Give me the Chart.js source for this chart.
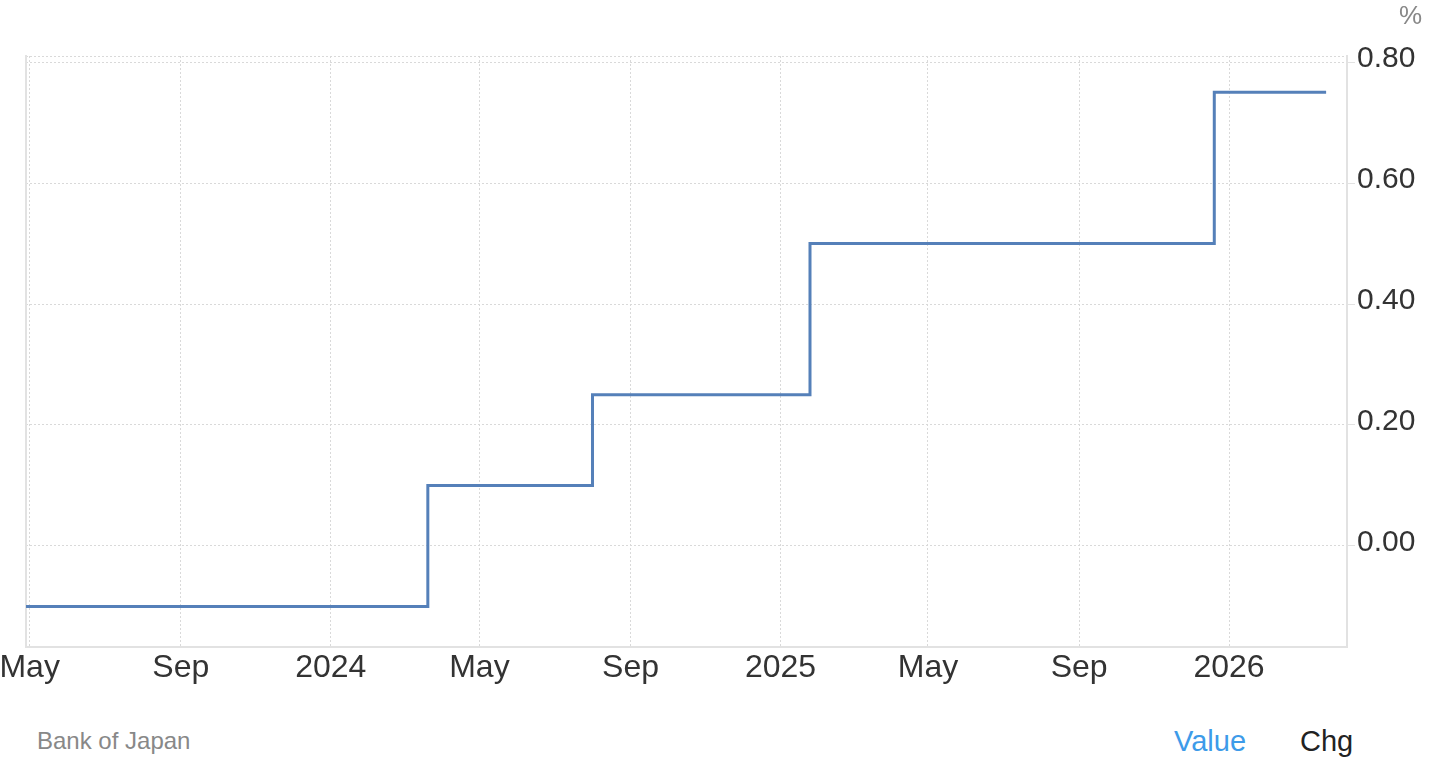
<!DOCTYPE html>
<html>
<head>
<meta charset="utf-8">
<script src="https://cdn.jsdelivr.net/npm/chart.js@4.4.1/dist/chart.umd.min.js"></script>
<style>
  body { margin: 0; background: #fff; font-family: "Liberation Sans", Arial, sans-serif; }
  #wrap { position: absolute; left: 0; top: 0; width: 1436px; height: 700px; }
  .txt { position: absolute; white-space: nowrap; }
  #unit { left: 1399px; top: 2px; font-size: 26px; line-height: 26px; color: #888; }
  #source { left: 37px; top: 729px; font-size: 24px; line-height: 24px; color: #888; }
  #value { left: 1174px; top: 727px; font-size: 29px; line-height: 29px; color: #3d9be9; }
  #chg { left: 1300px; top: 727px; font-size: 29px; line-height: 29px; color: #222; }
</style>
</head>
<body>
<div id="wrap"><canvas id="rateChart"></canvas></div>
<div class="txt" id="unit">%</div>
<div class="txt" id="source">Bank of Japan</div>
<div class="txt" id="value">Value</div>
<div class="txt" id="chg">Chg</div>
<script>
// policy rate, each value holds from its date until the next one
var rateDates = ['2023-04-28', '2024-03-20', '2024-08-01', '2025-01-25', '2025-12-20', '2026-03-21'];
var rateValues = [-0.1, 0.1, 0.25, 0.5, 0.75, 0.75];

var tickDates = ['2023-05-01', '2023-09-01', '2024-01-01', '2024-05-01', '2024-09-01', '2025-01-01', '2025-05-01', '2025-09-01', '2026-01-01'];
var tickLabels = ['May', 'Sep', '2024', 'May', 'Sep', '2025', 'May', 'Sep', '2026'];
var yTicks = [0, 0.2, 0.4, 0.6, 0.8];

var xStart = '2023-04-28';
var xEnd = '2026-04-07';
var yMin = -0.167;
var yMax = 0.81;

function toDay(s) {
  return Date.parse(s + 'T00:00:00Z') / 86400000;
}

var points = [];
for (var i = 0; i < rateDates.length; i++) {
  points.push({x: toDay(rateDates[i]), y: rateValues[i]});
}
var tickDays = tickDates.map(toDay);

var gridColor = '#d9d9d9';
var ctx = document.getElementById('rateChart');
var rateChart = new Chart(ctx, {
  type: 'line',
  data: {
    datasets: [{
      label: 'Interest Rate',
      data: points,
      stepped: 'before',
      borderColor: '#5580b9',
      borderWidth: 3,
      pointRadius: 0,
      fill: false
    }]
  },
  options: {
    responsive: true,
    maintainAspectRatio: false,
    animation: false,
    layout: { padding: { top: 56, left: 0, right: 0, bottom: 0 } },
    plugins: {
      legend: { display: false },
      tooltip: { enabled: false }
    },
    scales: {
      x: {
        type: 'linear',
        min: toDay(xStart),
        max: toDay(xEnd),
        afterBuildTicks: function(scale) {
          scale.ticks = tickDays.map(function(d) { return {value: d}; });
        },
        afterFit: function(scale) {
          scale.height = 53;
          scale.paddingLeft = 0;
          scale.paddingRight = 0;
        },
        grid: { color: gridColor, lineWidth: 1, drawTicks: false },
        border: { display: true, color: '#e2e2e2', width: 2, dash: [2, 2] },
        ticks: {
          autoSkip: false,
          maxRotation: 0,
          padding: 2,
          color: '#333',
          font: { family: '"Liberation Sans", Arial, sans-serif', size: 32 },
          callback: function(v, idx) { return tickLabels[idx]; }
        }
      },
      y: {
        position: 'right',
        min: yMin,
        max: yMax,
        afterBuildTicks: function(scale) {
          scale.ticks = yTicks.concat([yMax]).map(function(v) { return {value: v}; });
        },
        afterFit: function(scale) { scale.width = 89; },
        grid: {
          color: gridColor,
          lineWidth: 1,
          drawTicks: true,
          tickLength: 8,
          tickColor: function(c) { return c.tick && c.tick.value === yMax ? 'rgba(0,0,0,0)' : '#e2e2e2'; }
        },
        border: { display: true, color: '#e2e2e2', width: 2, dash: [2, 2] },
        ticks: {
          padding: 2,
          labelOffset: -3,
          color: '#333',
          font: { family: '"Liberation Sans", Arial, sans-serif', size: 30 },
          callback: function(v) { return yTicks.indexOf(v) >= 0 ? v.toFixed(2) : ''; }
        }
      },
      yLeft: {
        position: 'left',
        afterFit: function(scale) { scale.width = 26; },
        grid: { display: false, drawTicks: false },
        border: { display: true, color: '#e2e2e2', width: 2 },
        ticks: { display: false }
      }
    }
  }
});
</script>
</body>
</html>
